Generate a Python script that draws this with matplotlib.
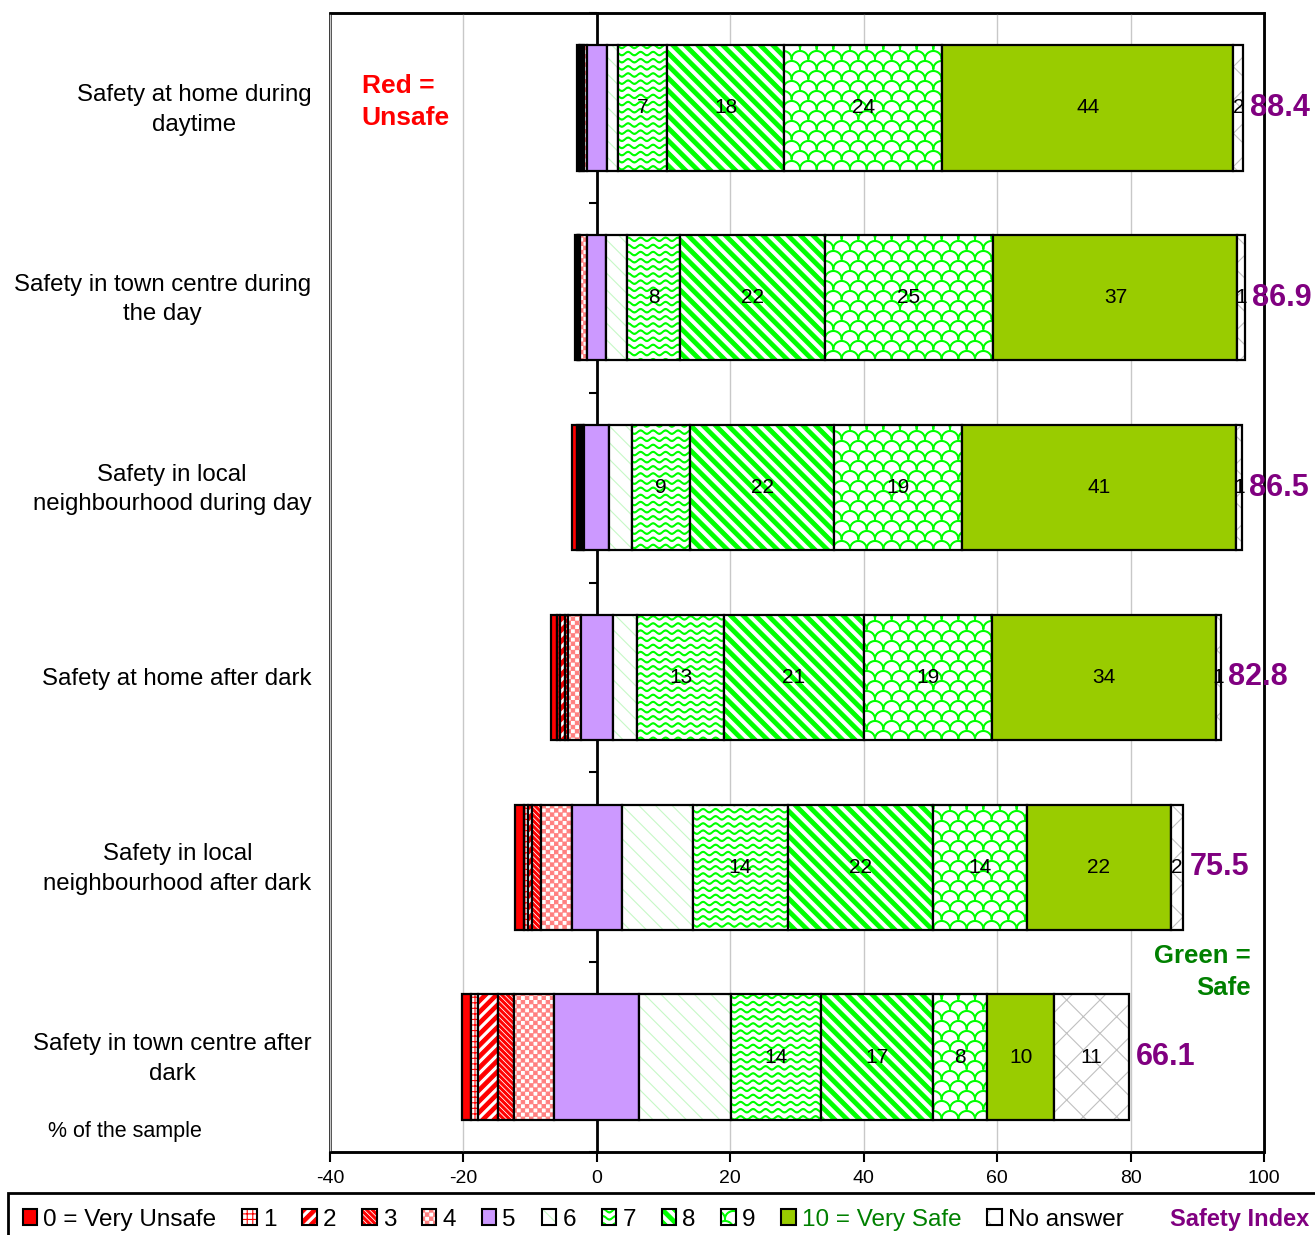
import warnings
import numpy as np
import matplotlib
matplotlib.use('Agg')
import matplotlib.pyplot as plt
import matplotlib.hatch as mhatch
import matplotlib.transforms as mtrans
from matplotlib.path import Path
from matplotlib.patches import Patch
from matplotlib.colors import to_rgba

warnings.filterwarnings('ignore')

plt.rcParams['font.family'] = ['Liberation Sans', 'DejaVu Sans']
plt.rcParams['hatch.linewidth'] = 0.8
plt.rcParams['axes.unicode_minus'] = False

# ---- data (% of the sample) ----
questions = ['Safety at home during\ndaytime',
             'Safety in town centre during\nthe day',
             'Safety in local\nneighbourhood during day',
             'Safety at home after dark',
             'Safety in local\nneighbourhood after dark',
             'Safety in town centre after\ndark']

score_0 = [0.3, 0.3, 0.7, 0.9, 1.3, 1.35]
score_1 = [0.2, 0.1, 0.3, 0.5, 0.6, 1.05]
score_2 = [0.3, 0.1, 0.3, 0.6, 0.6, 3.1]
score_3 = [0.3, 0.15, 0.3, 0.5, 1.4, 2.3]
score_4 = [0.4, 1.15, 0.25, 1.9, 4.6, 6.1]
score_5 = [3.1, 2.85, 3.75, 4.9, 7.45, 12.75]
score_6 = [1.65, 3.1, 3.35, 3.6, 10.7, 13.75]
score_7 = [7.3, 8.0, 8.75, 13.0, 14.2, 13.5]
score_8 = [17.6, 21.6, 21.6, 21.0, 21.7, 16.8]
score_9 = [23.7, 25.3, 19.1, 19.2, 14.1, 8.1]
score_10 = [43.6, 36.6, 41.2, 33.6, 21.6, 10.0]
no_answer = [1.5, 1.2, 0.9, 0.7, 1.8, 11.25]

safety_index = [88.4, 86.9, 86.5, 82.8, 75.5, 66.1]

levels = ['0 = Very Unsafe', '1', '2', '3', '4', '5', '6', '7', '8', '9',
          '10 = Very Safe', 'No answer']
series = [score_0, score_1, score_2, score_3, score_4, score_5, score_6,
          score_7, score_8, score_9, score_10, no_answer]
labelled = [7, 8, 9, 10, 11]   # which series get value labels


# ---- custom fill patterns (excel-like) ----
class CustomHatch(mhatch.HatchPatternBase):
    key = None

    def __init__(self, hatch, density):
        self.polys = self.make() if (hatch and self.key in hatch) else []
        self.num_vertices = sum(len(p) + 1 for p in self.polys)

    def set_vertices_and_codes(self, vertices, codes):
        i = 0
        for p in self.polys:
            n = len(p)
            vertices[i:i + n] = p
            vertices[i + n] = p[0]
            codes[i] = Path.MOVETO
            codes[i + 1:i + n] = Path.LINETO
            codes[i + n] = Path.CLOSEPOLY
            i += n + 1


def band_hatch(key, n, frac, up):
    class Bands(CustomHatch):
        def make(self):
            w = frac / n
            out = []
            for k in range(-n, n + 1):
                s = k / n
                if up:
                    out.append(np.array([[s, 0], [s + w, 0], [s + w + 1, 1], [s + 1, 1]]))
                else:
                    out.append(np.array([[s, 1], [s + w, 1], [s + w + 1, 0], [s + 1, 0]]))
            return out
    Bands.key = key
    return Bands


class WaveHatch(CustomHatch):
    key = 'w'

    def make(self):
        n, k, a, t = 14, 8, 0.017, 0.011
        xs = np.linspace(0, 1, 12 * k + 1)
        out = []
        for r in range(n):
            ys = (r + 0.5) / n + a * np.sin(2 * np.pi * k * xs)
            top = np.column_stack([xs, ys + t / 2])
            bot = np.column_stack([xs[::-1], ys[::-1] - t / 2])
            out.append(np.vstack([top, bot]))
        return out


class ScaleHatch(CustomHatch):
    key = 's'

    def make(self):
        n, k, t = 10, 6, 0.009
        th = np.linspace(0, np.pi, 25)
        rx, ry = 0.5 / k, 0.8 / n
        out = []
        for r in range(n):
            y0 = (r + 0.1) / n
            shift = 0.5 / k if r % 2 else 0
            for j in range(-1, k + 2):
                xc = j / k + shift
                outer = np.column_stack([xc + (rx + t / 2) * np.cos(th), y0 + (ry + t / 2) * np.sin(th)])
                inner = np.column_stack([xc + (rx - t / 2) * np.cos(th[::-1]), y0 + (ry - t / 2) * np.sin(th[::-1])])
                out.append(np.vstack([outer, inner]))
        return out


class CheckerHatch(CustomHatch):
    key = 'k'

    def make(self):
        n, e = 24, 0.004
        out = []
        for i in range(n):
            for j in range(n):
                if (i + j) % 2 == 0:
                    x0, y0, d = i / n + e, j / n + e, 1 / n - 2 * e
                    out.append(np.array([[x0, y0], [x0 + d, y0], [x0 + d, y0 + d], [x0, y0 + d]]))
        return out


mhatch._hatch_types += [band_hatch('a', 9, 0.45, True),
                        band_hatch('b', 18, 0.5, False),
                        band_hatch('c', 8, 0.42, False),
                        WaveHatch, ScaleHatch, CheckerHatch]

# facecolour, hatch colour, hatch
styles = [('#FF0000', None, None),
          ('white', '#FF0000', '+++'),
          ('white', '#FF0000', 'a'),
          ('white', '#FF0000', 'b'),
          ('white', '#FF8080', 'k'),
          ('#CC99FF', None, None),
          ('white', '#C6F8C6', '\\\\'),
          ('white', '#00FF00', 'w'),
          ('white', '#00FF00', 'c'),
          ('white', '#00FF00', 's'),
          ('#99CC00', None, None),
          ('white', '#C0C0C0', 'x')]


def hatch_colour(p, c):
    if c is None:
        return
    if hasattr(p, 'set_hatchcolor'):
        p.set_hatchcolor(c)
    else:
        p._hatch_color = to_rgba(c)


# ---- figure ----
fig = plt.figure(figsize=(13.15, 12.35), dpi=100)
ax = fig.add_axes([330 / 1315, 1 - 1152 / 1235, 934 / 1315, 1139 / 1235])

y = np.arange(len(questions))
data = np.array(series)
left = -(data[:5].sum(axis=0) + data[5] / 2)

for i, (vals, (fc, hc, h)) in enumerate(zip(data, styles)):
    bars = ax.barh(y, vals, left=left, height=0.66, color=fc, edgecolor='black',
                   linewidth=1.6, hatch=h, zorder=3)
    for b in bars:
        hatch_colour(b, hc)
    if i in labelled:
        ax.bar_label(bars, labels=[f'{v:.0f}' for v in vals], label_type='center',
                     fontsize=15, zorder=5)
    left = left + vals

for i, si in enumerate(safety_index):
    ax.annotate(f'{si:.1f}', xy=(left[i], i), xytext=(5, 0), textcoords='offset points',
                ha='left', va='center', color='#800080', fontsize=22, fontweight='bold')

# category labels on the left of the plot area
trans = mtrans.blended_transform_factory(ax.transAxes, ax.transData)
for i, q in enumerate(questions):
    ax.text(-0.02, i + 0.01, q, transform=trans, ha='right', va='center',
            multialignment='center', fontsize=17.3, linespacing=1.45)

ax.set_xlim(-40, 100)
ax.set_ylim(len(questions) - 0.5, -0.5)
ax.set_xticks(np.arange(-40, 101, 20))
ax.tick_params(axis='x', direction='out', length=7, width=1.5, labelsize=14, pad=6)
ax.set_yticks(y)
ax.set_yticklabels([])
ax.set_yticks(np.arange(len(questions) + 1) - 0.5, minor=True)
ax.tick_params(axis='y', which='major', length=0)
ax.tick_params(axis='y', which='minor', length=6, width=1.5, direction='out')

ax.grid(axis='x', color='#C8C8C8', linewidth=1)
ax.set_axisbelow(True)

ax.spines['left'].set_position(('data', 0))
ax.spines['left'].set_linewidth(2)
for s in ['top', 'right', 'bottom']:
    ax.spines[s].set_linewidth(1.8)
ax.patch.set_edgecolor('black')
ax.patch.set_linewidth(1.8)

ax.text(0.034, 0.922, 'Red =\nUnsafe', transform=ax.transAxes, color='#FF0000',
        fontsize=19, fontweight='bold', ha='left', va='center', linespacing=1.45)
ax.text(0.986, 0.158, 'Green =\nSafe', transform=ax.transAxes, color='#008000',
        fontsize=18.5, fontweight='bold', ha='right', va='center', multialignment='right',
        linespacing=1.45)
fig.text(48 / 1315, 1 - 1132 / 1235, '% of the sample', fontsize=15.5, va='center')

# legend
handles = []
for fc, hc, h in styles:
    p = Patch(facecolor=fc, edgecolor='black', hatch=h, linewidth=1.5)
    hatch_colour(p, hc)
    handles.append(p)
handles.append(Patch(facecolor='none', edgecolor='none'))
leg = fig.legend(handles, levels + ['Safety Index'], loc='upper left',
                 bbox_to_anchor=(8 / 1315, 1 - 1193 / 1235), ncol=13, fontsize=17.5,
                 handlelength=0.6, handleheight=0.6, handletextpad=0.25,
                 columnspacing=1.06, borderpad=0.6, borderaxespad=0,
                 fancybox=False, edgecolor='black', framealpha=1)
leg.get_frame().set_linewidth(2)
texts = leg.get_texts()
texts[10].set_color('#008000')
texts[12].set_color('#800080')
texts[12].set_fontweight('bold')
texts[12].set_fontsize(17)

fig.savefig('out.png', dpi=100)
